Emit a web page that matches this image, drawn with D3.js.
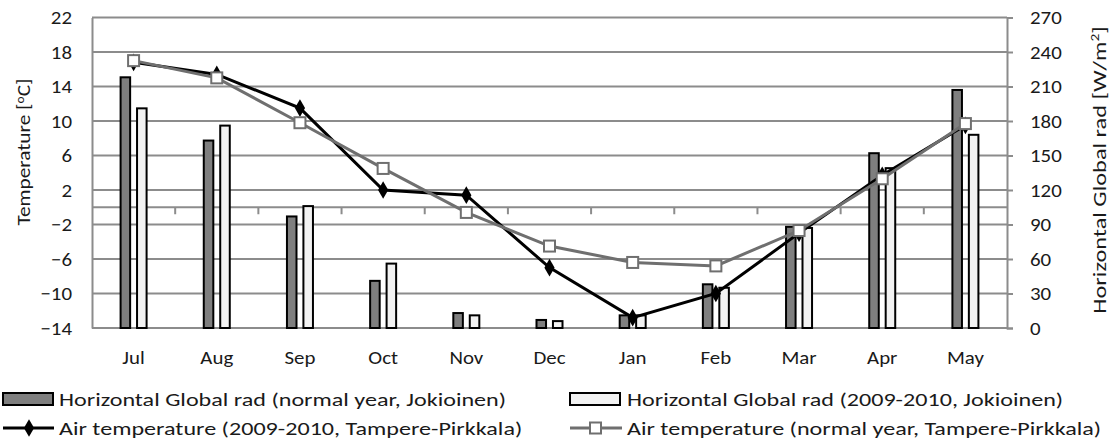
<!DOCTYPE html>
<html>
<head>
<meta charset="utf-8">
<script src="https://cdn.jsdelivr.net/npm/d3@7/dist/d3.min.js"></script>
<style>
  html, body { margin: 0; padding: 0; background: #fff; }
  svg { display: block; }
  text { font-family: Carlito, Calibri, Lato, sans-serif; fill: #1a1a1a; }
</style>
</head>
<body>
<svg id="chart" width="1115" height="441"></svg>
<script>
// Months of the measurement period
const months = ["Jul", "Aug", "Sep", "Oct", "Nov", "Dec", "Jan", "Feb", "Mar", "Apr", "May"];

// Horizontal global radiation, W/m2 (Jokioinen)
const radNormal = [218, 163, 97, 41, 13, 7, 11, 38, 88, 152, 207];
const rad2009 = [191, 176, 106, 56, 11, 6, 11, 35, 87, 139, 168];

// Air temperature, °C (Tampere-Pirkkala)
const temp2009 = [16.8, 15.4, 11.5, 2.0, 1.4, -7.0, -12.8, -10.0, -3.0, 3.7, 9.5];
const tempNormal = [17.0, 15.0, 9.8, 4.5, -0.6, -4.5, -6.4, -6.8, -2.7, 3.3, 9.7];

// Axis ticks
const tempTicks = [-14, -10, -6, -2, 2, 6, 10, 14, 18, 22];
const radTicks = [0, 30, 60, 90, 120, 150, 180, 210, 240, 270];

const legendLabels = [
  "Horizontal Global rad (normal year, Jokioinen)",
  "Horizontal Global rad (2009-2010, Jokioinen)",
  "Air temperature (2009-2010, Tampere-Pirkkala)",
  "Air temperature (normal year, Tampere-Pirkkala)"
];

const svg = d3.select("#chart");
const plotL = 92, plotR = 1007, plotT = 17.5, plotB = 328;
const fs = 19;
const fontStack = "Carlito, Calibri, Lato, sans-serif";
const gridColor = "#8c8c8c";
const darkFill = "#7f7f7f", lightFill = "#f2f2f2";
const grayLine = "#6f6f6f";
// horizontal widening of the glyphs (wide Calibri-like look)
const kTick = 1.1, kLegend = 1.27;

const x = d3.scaleBand().domain(months).range([plotL, plotR]).padding(0);
const x1 = d3.scaleBand().domain(["normal", "2009"]).range([-13, 13]).paddingInner(0.42);
const yT = d3.scaleLinear().domain([-14, 22]).range([plotB, plotT]);
const yR = d3.scaleLinear().domain([0, 270]).range([plotB, plotT]);
const cx = m => x(m) + x.bandwidth() / 2;

// Horizontal gridlines
svg.append("g").selectAll("line").data(tempTicks).join("line")
  .attr("x1", plotL).attr("x2", plotR)
  .attr("y1", d => yT(d)).attr("y2", d => yT(d))
  .attr("stroke", gridColor).attr("stroke-width", 2);

// Left axis (temperature)
const padL = 20;
const gL = svg.append("g").attr("transform", `translate(${plotL},0)`)
  .call(d3.axisLeft(yT).tickValues(tempTicks).tickSize(0).tickPadding(padL));
gL.select(".domain").attr("stroke", gridColor).attr("stroke-width", 2);
gL.selectAll("text").style("font-size", fs + "px").attr("fill", "#1a1a1a")
  .style("font-family", fontStack)
  .attr("x", -padL / kTick).attr("transform", `scale(${kTick},1)`);

// Right axis (radiation)
const padR = 23;
const gR = svg.append("g").attr("transform", `translate(${plotR},0)`)
  .call(d3.axisRight(yR).tickValues(radTicks).tickSize(6).tickPadding(padR - 6));
gR.select(".domain").attr("stroke", gridColor).attr("stroke-width", 2);
gR.selectAll(".tick line").attr("stroke", gridColor).attr("stroke-width", 2);
gR.selectAll("text").style("font-size", fs + "px").attr("fill", "#1a1a1a")
  .style("font-family", fontStack)
  .attr("x", padR / kTick).attr("transform", `scale(${kTick},1)`);

// Category axis crossing at 0 °C
const gX = svg.append("g").attr("transform", `translate(0,${yT(0)})`);
gX.append("line").attr("x1", plotL).attr("x2", plotR).attr("y1", 0).attr("y2", 0)
  .attr("stroke", gridColor).attr("stroke-width", 2);
gX.selectAll("line.tk").data(months.slice(1)).join("line").attr("class", "tk")
  .attr("x1", d => x(d)).attr("x2", d => x(d)).attr("y1", 0).attr("y2", 7)
  .attr("stroke", gridColor).attr("stroke-width", 2);

// Month labels below the plot
svg.append("g").selectAll("text").data(months).join("text")
  .attr("transform", d => `translate(${cx(d)},364) scale(${kTick},1)`)
  .attr("text-anchor", "middle").style("font-size", fs + "px").text(d => d);

// Radiation bars
const barData = months.flatMap((m, i) => [
  { m, s: "normal", v: radNormal[i] },
  { m, s: "2009", v: rad2009[i] }
]);
svg.append("g").selectAll("rect").data(barData).join("rect")
  .attr("x", d => cx(d.m) + x1(d.s))
  .attr("width", x1.bandwidth())
  .attr("y", d => yR(d.v))
  .attr("height", d => yR(0) - yR(d.v))
  .attr("fill", d => d.s === "normal" ? darkFill : lightFill)
  .attr("stroke", "#000").attr("stroke-width", 2);

const line = d3.line().x((d, i) => cx(months[i])).y(d => yT(d));
const diamond = d3.symbol().type(d3.symbolDiamond).size(90);

// Air temperature 2009-2010
svg.append("path").datum(temp2009).attr("d", line)
  .attr("fill", "none").attr("stroke", "#000").attr("stroke-width", 3);
svg.append("g").selectAll("path").data(temp2009).join("path")
  .attr("transform", (d, i) => `translate(${cx(months[i])},${yT(d)})`)
  .attr("d", diamond).attr("fill", "#000");

// Air temperature, normal year
svg.append("path").datum(tempNormal).attr("d", line)
  .attr("fill", "none").attr("stroke", grayLine).attr("stroke-width", 3);
svg.append("g").selectAll("rect").data(tempNormal).join("rect")
  .attr("x", (d, i) => cx(months[i]) - 5.5).attr("y", d => yT(d) - 5.5)
  .attr("width", 11).attr("height", 11)
  .attr("fill", "#fff").attr("stroke", grayLine).attr("stroke-width", 2);

// Axis titles
const tL = svg.append("text")
  .attr("transform", "translate(30,152) rotate(-90) scale(1.12,1)")
  .attr("text-anchor", "middle").style("font-size", fs + "px");
tL.append("tspan").text("Temperature [");
tL.append("tspan").text("o").style("font-size", "12px").attr("dy", -6);
tL.append("tspan").text("C]").attr("dy", 6);

const tR = svg.append("text")
  .attr("transform", "translate(1106,170) rotate(-90) scale(1.28,1)")
  .attr("text-anchor", "middle").style("font-size", fs + "px");
tR.append("tspan").text("Horizontal Global rad [W/m");
tR.append("tspan").text("2").style("font-size", "12px").attr("dy", -7);
tR.append("tspan").text("]").attr("dy", 7);

// Legend
const lg = svg.append("g");
const items = [
  { kind: "bar", fill: darkFill, sx: 3, tx: 59, y: 399 },
  { kind: "bar", fill: lightFill, sx: 570, tx: 627, y: 399 },
  { kind: "diamond", sx: 3, tx: 59, y: 428 },
  { kind: "square", sx: 570, tx: 627, y: 428 }
];
items.forEach((it, i) => {
  if (it.kind === "bar") {
    lg.append("rect").attr("x", it.sx).attr("y", it.y - 6).attr("width", 50).attr("height", 12)
      .attr("fill", it.fill).attr("stroke", "#000").attr("stroke-width", 2);
  } else if (it.kind === "diamond") {
    lg.append("line").attr("x1", it.sx).attr("x2", it.sx + 51).attr("y1", it.y).attr("y2", it.y)
      .attr("stroke", "#000").attr("stroke-width", 3);
    lg.append("path").attr("transform", `translate(${it.sx + 26},${it.y})`)
      .attr("d", diamond).attr("fill", "#000");
  } else {
    lg.append("line").attr("x1", it.sx).attr("x2", it.sx + 52).attr("y1", it.y).attr("y2", it.y)
      .attr("stroke", grayLine).attr("stroke-width", 3);
    lg.append("rect").attr("x", it.sx + 20).attr("y", it.y - 5.5).attr("width", 11).attr("height", 11)
      .attr("fill", "#fff").attr("stroke", grayLine).attr("stroke-width", 2);
  }
  lg.append("text").attr("transform", `translate(${it.tx},${it.y + 6.5}) scale(${kLegend},1)`)
    .style("font-size", fs + "px").text(legendLabels[i]);
});
</script>
</body>
</html>
